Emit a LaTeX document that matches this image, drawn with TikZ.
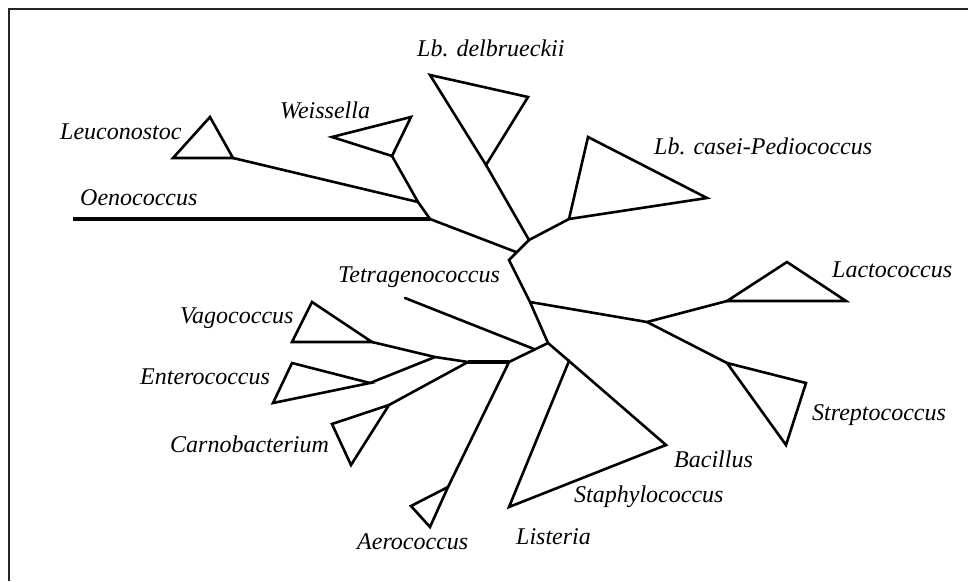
\documentclass[tikz,border=0pt]{standalone}
\usepackage{fontspec}
\setmainfont{Liberation Serif}
\begin{document}
\begin{tikzpicture}[x=1pt,y=-1pt,
  br/.style={line width=2.6pt,line cap=round},
  thickbr/.style={line width=4.4pt},
  clade/.style={line width=2.6pt,line join=miter},
  lbl/.style={anchor=base west,inner sep=0pt,font=\fontsize{24}{28}\selectfont\itshape},
  frame/.style={line width=1.8pt,draw=black!85}]
\useasboundingbox (0,0) rectangle (968,581);
\draw[frame] (968,9) -- (9,9) -- (9,581);
% internal points
\coordinate (J1) at (418,202);
\coordinate (J2) at (430,219);
\coordinate (Oe) at (73,219);
\coordinate (A) at (529,240);
\coordinate (B) at (509,260);
\coordinate (J3) at (516,252);
\coordinate (E) at (530,302);
\coordinate (C) at (548,343);
\coordinate (F) at (647,322);
\coordinate (D) at (534,349);
\coordinate (G) at (509,362);
\coordinate (H) at (468,362);
\coordinate (K) at (435,357);
\coordinate (TE) at (405,298);
% clade triangles: vertex v, corners p q
\coordinate (leuV) at (233,158); \coordinate (leuP) at (210,117); \coordinate (leuQ) at (173,158);
\coordinate (weiV) at (392,156); \coordinate (weiP) at (411,117); \coordinate (weiQ) at (332,137);
\coordinate (delV) at (486,165); \coordinate (delP) at (528,97); \coordinate (delQ) at (430,75);
\coordinate (casV) at (569,219); \coordinate (casP) at (588,137); \coordinate (casQ) at (707,198);
\coordinate (lacV) at (727,301); \coordinate (lacP) at (787,262); \coordinate (lacQ) at (846,301);
\coordinate (strV) at (727,363); \coordinate (strP) at (806,383); \coordinate (strQ) at (786,445);
\coordinate (bacV) at (569,361); \coordinate (bacP) at (666,445); \coordinate (bacQ) at (509,507);
\coordinate (aerV) at (448,487); \coordinate (aerP) at (430,527); \coordinate (aerQ) at (411,506);
\coordinate (vagV) at (372,342); \coordinate (vagP) at (312,302); \coordinate (vagQ) at (292,342);
\coordinate (entV) at (370,383); \coordinate (entP) at (292,363); \coordinate (entQ) at (273,403);
\coordinate (carV) at (389,405); \coordinate (carP) at (332,424); \coordinate (carQ) at (351,465);
% triangles
\foreach \c in {leu,wei,del,cas,lac,str,bac,aer,vag,ent,car}
  \draw[clade] (\c V) -- (\c P) -- (\c Q) -- cycle;
% branches
\draw[thickbr] (Oe) -- (J2);
\draw[thickbr] (H) -- (G);
\draw[br] (leuV) -- (J1);
\draw[br] (weiV) -- (J1) -- (J2) -- (J3);
\draw[br] (delV) -- (A) -- (casV);
\draw[br] (A) -- (B) -- (E) -- (C);
\draw[br] (E) -- (F) -- (lacV);
\draw[br] (F) -- (strV);
\draw[br] (C) -- (bacV);
\draw[br] (C) -- (G) -- (aerV);
\draw[br] (TE) -- (D);
\draw[br] (vagV) -- (K) -- (H) -- (carV);
\draw[br] (entV) -- (K);
% labels
\node[lbl] (leu) at (60,139) {Leuconostoc};
\node[lbl] (wei) at (280,118) {Weissella};
\node[lbl] (oen) at (80,205) {Oenococcus};
\node[lbl] (del) at (417,56) {Lb. delbrueckii};
\node[lbl] (cas) at (654,154) {Lb. casei-Pediococcus};
\node[lbl] (lac) at (832,277) {Lactococcus};
\node[lbl] (tet) at (338,282) {Tetragenococcus};
\node[lbl] (vag) at (180,323) {Vagococcus};
\node[lbl] (ent) at (140,384) {Enterococcus};
\node[lbl] (car) at (170,452) {Carnobacterium};
\node[lbl] (aer) at (357,549) {Aerococcus};
\node[lbl] (lis) at (516,544) {Listeria};
\node[lbl] (sta) at (574,502) {Staphylococcus};
\node[lbl] (bac) at (674,467) {Bacillus};
\node[lbl] (str) at (812,420) {Streptococcus};
\end{tikzpicture}
\end{document}
